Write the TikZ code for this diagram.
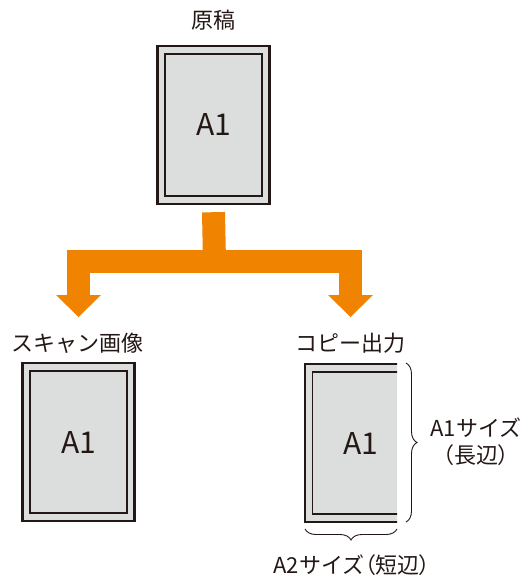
\documentclass[tikz,border=0pt]{standalone}
\usepackage{fontspec}
\setmainfont{Noto Sans CJK JP}
\newfontfamily\paltfont[RawFeature=+palt]{Noto Sans CJK JP}
\usetikzlibrary{arrows.meta, positioning, decorations.pathreplacing}
\definecolor{myorange}{RGB}{240,131,0}
\definecolor{mygrey}{RGB}{220,221,221}
\definecolor{myink}{RGB}{35,24,21}
\newcommand{\pl}{{\paltfont （}}
\newcommand{\pr}{{\paltfont ）}}
\tikzset{
  sheet/.style={rectangle, draw=myink, fill=mygrey, line width=2.4pt,
    minimum width=112pt, minimum height=158pt, inner sep=0pt},
  sheetin/.style={rectangle, draw=myink, line width=1.8pt,
    minimum width=97pt, minimum height=142pt, inner sep=0pt,
    font=\fontsize{30}{32}\selectfont, text=myink},
  txt/.style={font=\fontsize{22}{24}\selectfont, text=myink, inner sep=0pt},
  forkhead/.tip={Triangle[length=22pt, width=45pt, line width=0pt]},
  fork/.style={myorange, line width=23pt},
  sizebrace/.style={draw=myink, line width=0.9pt, decorate,
    decoration={brace, amplitude=11pt}}
}

\begin{document}
\begin{tikzpicture}[x=1pt, y=-1pt]
  \useasboundingbox (0,0) rectangle (529,581);

  % Original
  \node[txt] (origtxt) at (213.5,20) {原稿};
  \node[sheet] (orig) at (213.5,125) {};
  \node[sheetin] (origin) at (orig) {A1};

  % Fork arrow
  \coordinate (forktop) at ([yshift=-7pt]orig.south);
  \coordinate (forkmid) at (214.5,261.5);
  \coordinate (scantip) at (78.5,317);
  \coordinate (copytip) at (350.5,317);
  \draw[fork] (forktop) -- (forkmid);
  \draw[fork, forkhead-forkhead] (scantip) |- (forkmid -| copytip) -- (copytip);

  % Scan image
  \node[txt] (scantxt) at (78,343) {スキャン画像};
  \node[sheet] (scan) at (78.5,442) {};
  \node[sheetin] (scanin) at (scan) {A1};

  % Copy output (cut at the A2 short side)
  \node[txt] (copytxt) at (350,343) {コピー出力};
  \begin{scope}
    \clip (295,350) rectangle (397,530);
    \node[sheet] (copy) at (361,443) {};
    \node[sheetin] (copyin) at (copy) {A1};
  \end{scope}

  % Size braces
  \coordinate (longtop) at (406,363);
  \coordinate (longbot) at (406,522);
  \draw[sizebrace] (longtop) -- (longbot);
  \node[txt] (longtxt) at (476,428) {A1サイズ};
  \node[txt] (longsub) at (476,455) {\pl 長辺\pr};
  \coordinate (shortr) at (397,529);
  \coordinate (shortl) at (305,529);
  \draw[sizebrace] (shortr) -- (shortl);
  \node[txt] (shorttxt) at (352,565) {A2サイズ\pl 短辺\pr};
\end{tikzpicture}
\end{document}
